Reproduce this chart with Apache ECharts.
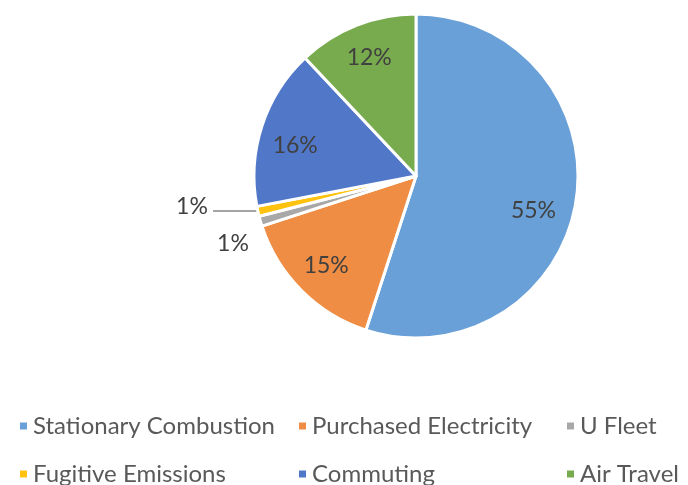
<!DOCTYPE html>
<html><head><meta charset="utf-8">
<script src="https://cdn.jsdelivr.net/npm/echarts@6/dist/echarts.min.js"></script>
<style>html,body{margin:0;padding:0;background:#fff}#c{width:688px;height:485px}</style>
</head><body><div id="c"></div>
<script>
const categories = ['Stationary Combustion','Purchased Electricity','U Fleet','Fugitive Emissions','Commuting','Air Travel'];
const values = [55, 15, 1, 1, 16, 12];
const colors = ['#69A0D8','#EE8D43','#A8A8A8','#FFC20E','#5178C8','#78AA4E'];
const FONT = 'Lato';
const data = categories.map((n,i)=>({name:n, value:values[i], itemStyle:{color:colors[i]}}));
const small = new Set(['U Fleet','Fugitive Emissions']);
const labelOffsets = {'Stationary Combustion':[-8,15], 'Commuting':[0,9]};
const chart = echarts.init(document.getElementById('c'));
const legendCommon = {orient:'vertical', top:409, height:200, itemWidth:9, itemHeight:9, icon:'rect', itemGap:24,
  textStyle:{fontFamily:FONT, fontSize:24, color:'#595959', padding:[0,0,0,0]}};
chart.setOption({
  animation:false,
  legend:[
    Object.assign({left:13, data:['Stationary Combustion','Fugitive Emissions']}, legendCommon),
    Object.assign({left:292, data:['Purchased Electricity','Commuting']}, legendCommon),
    Object.assign({left:560, data:['U Fleet','Air Travel']}, legendCommon)
  ],
  series:[
    {type:'pie', center:[416,176], radius:162, startAngle:90, clockwise:true,
     itemStyle:{borderColor:'#fff', borderWidth:3},
     data:data.map(d=>Object.assign({}, d, {label: small.has(d.name)? {show:true}:{show:false},
        labelLine: d.name==='Fugitive Emissions'? {show:true}:{show:false}})),
     label:{position:'outside', formatter:p=>Math.round(p.value)+'%', fontFamily:FONT, fontSize:23, color:'#404040'},
     labelLine:{lineStyle:{color:'#A5A5A5', width:2}},
     labelLayout:function(p){
       const n = categories[p.dataIndex];
       if(n==='Fugitive Emissions'){
         return {x:192, y:207, align:'center', verticalAlign:'middle', labelLinePoints:[[213,211],[235,211],[257,211]]};
       }
       if(n==='U Fleet'){
         return {x:233, y:244, align:'center', verticalAlign:'middle'};
       }
     }
    },
    {type:'pie', center:[416,176], radius:[86,162], startAngle:90, clockwise:true, silent:true,
     itemStyle:{color:'rgba(0,0,0,0)', borderWidth:0},
     data:data.map(d=>({name:d.name, value:d.value, itemStyle:{color:'rgba(0,0,0,0)'},
        label:{show:!small.has(d.name), offset:labelOffsets[d.name]||[0,0]}})),
     label:{position:'inside', formatter:p=>Math.round(p.value)+'%', fontFamily:FONT, fontSize:23, color:'#404040'},
     labelLine:{show:false}
    }
  ]
});
</script></body></html>
